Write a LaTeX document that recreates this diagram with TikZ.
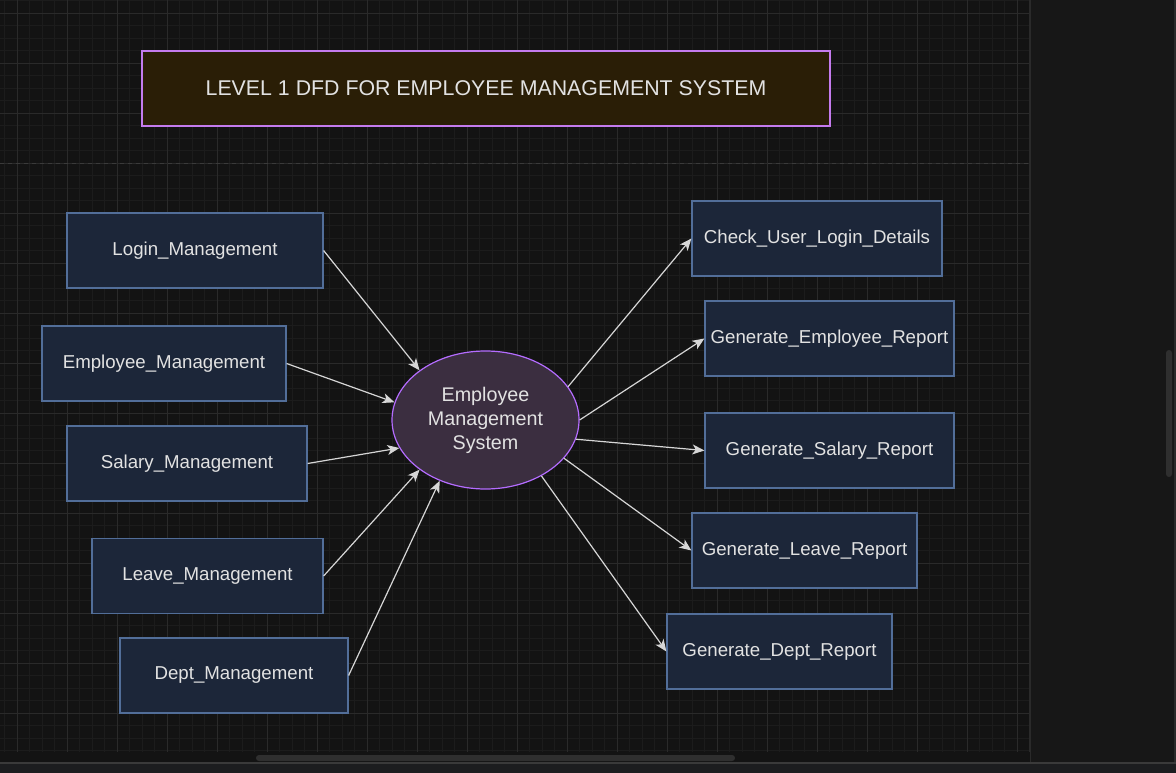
\documentclass[tikz,border=0pt]{standalone}
\usepackage{fontspec}
\setmainfont{Liberation Sans}
\usepackage{tikz}
\usetikzlibrary{shapes.geometric,arrows.meta}

\definecolor{canvas}{HTML}{131313}
\definecolor{gridmin}{HTML}{1C1C1C}
\definecolor{gridmaj}{HTML}{2A2A2A}
\definecolor{dashcol}{HTML}{3A3A3A}
\definecolor{panel}{HTML}{171717}
\definecolor{footer}{HTML}{1C1D1F}
\definecolor{thumb}{HTML}{2F2F2F}
\definecolor{boxfill}{HTML}{1C2639}
\definecolor{boxline}{HTML}{526E99}
\definecolor{sysfill}{HTML}{3B2E40}
\definecolor{sysline}{HTML}{B46CFF}
\definecolor{titlefill}{HTML}{2A1E06}
\definecolor{titleline}{HTML}{C47BEE}
\definecolor{txt}{HTML}{E2E2E2}
\definecolor{flowcol}{HTML}{D6D6D6}

\tikzset{
	proc/.style = {draw=boxline, fill=boxfill, line width=0.9pt, text=txt,
		minimum height=56.25pt, inner sep=0pt, font=\fontsize{14}{17}\selectfont},
	sysnode/.style = {ellipse, draw=sysline, fill=sysfill, line width=0.9pt, text=txt,
		minimum width=140.25pt, minimum height=103.5pt, inner sep=0pt, align=center,
		font=\fontsize{14.8}{18}\selectfont},
	titlebox/.style = {draw=titleline, fill=titlefill, line width=0.9pt, text=txt,
		minimum width=516pt, minimum height=56.25pt, inner sep=0pt,
		font=\fontsize{16}{18}\selectfont},
	flow/.style = {draw=flowcol, line width=0.9pt,
		-{Stealth[length=9pt, width=7.5pt, inset=2.5pt]}}
}

\begin{document}
\begin{tikzpicture}[x=0.75pt, y=-0.75pt]
	\useasboundingbox (0,0) rectangle (1176,773);
	
	% canvas and grid
	\fill[canvas] (0,0) rectangle (1176,773);
	\foreach \gx in {4.5,17,...,1030} \draw[gridmin, line width=0.6pt] (\gx,0) -- (\gx,752);
	\foreach \gy in {0.5,13,...,752} \draw[gridmin, line width=0.6pt] (0,\gy) -- (1030,\gy);
	\foreach \gx in {17,67,...,1030} \draw[gridmaj, line width=0.6pt] (\gx,0) -- (\gx,752);
	\foreach \gy in {13,63,...,752} \draw[gridmaj, line width=0.6pt] (0,\gy) -- (1030,\gy);
	\draw[dashcol, dashed, line width=0.7pt] (0,163) -- (1030,163);
	
	% side panel and scroll bars
	\fill[panel] (1030,0) rectangle (1176,763);
	\draw[gridmaj, line width=1pt] (1030,0) -- (1030,763);
	\draw[gridmaj, line width=1pt] (1175,0) -- (1175,763);
	\fill[canvas] (0,752) rectangle (1030,763);
	\fill[thumb, rounded corners=2.2pt] (1166,350) rectangle (1172,477);
	\fill[thumb, rounded corners=2.2pt] (256,755) rectangle (735,761);
	\fill[footer] (0,763) rectangle (1176,773);
	\draw[dashcol, line width=0.8pt] (0,763) -- (1176,763);
	
	% title
	\node[titlebox] (title) at (486,88.5) {LEVEL 1 DFD FOR EMPLOYEE MANAGEMENT SYSTEM};
	
	% central process
	\node[sysnode] (sys) at (485.5,420) {Employee\\Management\\System};
	
	% inputs
	\node[proc, minimum width=192pt] (login) at (195,250.5) {Login\_Management};
	\node[proc, minimum width=183pt] (emp) at (164,363.5) {Employee\_Management};
	\node[proc, minimum width=180pt] (sal) at (187,463.5) {Salary\_Management};
	\node[proc, minimum width=173.25pt] (leave) at (207.5,576) {Leave\_Management};
	\node[proc, minimum width=171pt] (dept) at (234,675.5) {Dept\_Management};
	
	% outputs
	\node[proc, minimum width=187.5pt] (check) at (817,238.5) {Check\_User\_Login\_Details};
	\node[proc, minimum width=186.75pt] (genemp) at (829.5,338.5) {Generate\_Employee\_Report};
	\node[proc, minimum width=186.75pt] (gensal) at (829.5,450.5) {Generate\_Salary\_Report};
	\node[proc, minimum width=168.75pt] (genleave) at (804.5,550.5) {Generate\_Leave\_Report};
	\node[proc, minimum width=168.75pt] (gendept) at (779.5,651.5) {Generate\_Dept\_Report};
	
	%edges
	\draw[flow] (login.east) -- (sys.143.5);
	\draw[flow] (emp.east) -- (sys.169);
	\draw[flow] (sal.east) -- (sys.198);
	\draw[flow] (leave.east) -- (sys.217);
	\draw[flow] (dept.east) -- (sys.233);
	
	\draw[flow] (sys.22) -- (check.west);
	\draw[flow] (sys.0) -- (genemp.west);
	\draw[flow] (sys.-12) -- (gensal.west);
	\draw[flow] (sys.-26) -- (genleave.west);
	\draw[flow] (sys.-45) -- (gendept.west);
\end{tikzpicture}
\end{document}
